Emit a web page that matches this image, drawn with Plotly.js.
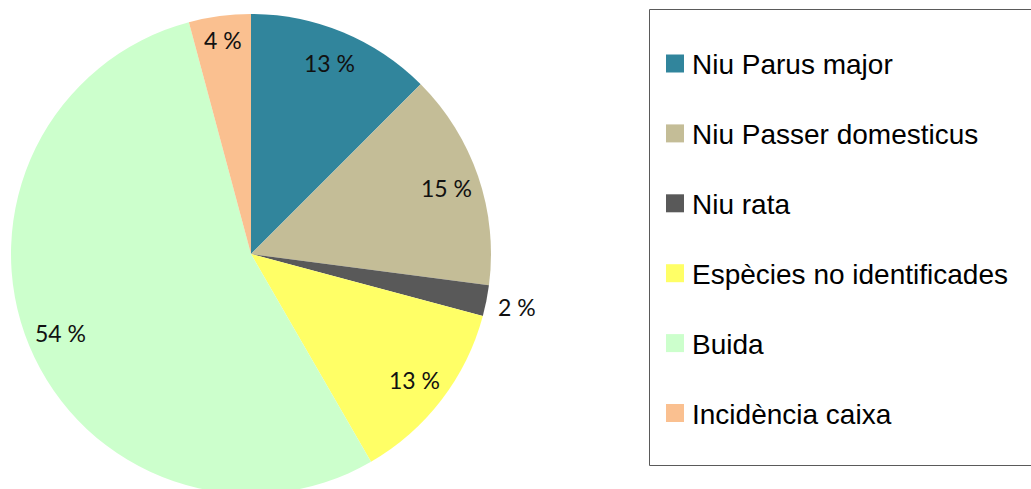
<!DOCTYPE html>
<html>
<head>
<meta charset="utf-8">
<script src="https://cdn.plot.ly/plotly-3.0.1.min.js"></script>
<style>
  html, body { margin: 0; padding: 0; overflow: hidden; background: #fff; }
  #chart { width: 1031px; height: 500px; }
</style>
</head>
<body>
<div id="chart"></div>
<script>
// Data (nest counts)
const categories = ["Niu Parus major", "Niu Passer domesticus", "Niu rata",
                    "Espècies no identificades", "Buida", "Incidència caixa"];
const counts = [12, 14, 2, 12, 52, 4];
const colors = ["#31859C", "#C4BD97", "#595959", "#FFFF66", "#CCFFCC", "#FAC090"];

// Layout constants
const W = 1031, H = 500;
const pieLeft = 11, pieTop = 14, pieSize = 480;
const R = pieSize / 2;
const cx = pieLeft + R, cy = pieTop + R;

const total = counts.reduce((a, b) => a + b, 0);

// Percentage labels placed along each slice's mid-angle
const annotations = [];
let cum = 0;
counts.forEach((v, i) => {
  const frac = v / total;
  const mid = (cum + frac / 2) * 2 * Math.PI; // clockwise from 12 o'clock
  cum += frac;
  const rf = frac < 0.03 ? 1.13 : (frac < 0.06 ? 0.9 : 0.86);
  const px = cx + rf * R * Math.sin(mid);
  const py = cy - rf * R * Math.cos(mid);
  annotations.push({
    x: px / W, y: 1 - py / H, xref: "paper", yref: "paper",
    text: Math.round(frac * 100) + " %",
    showarrow: false, xanchor: "center", yanchor: "middle",
    font: { family: "Lato, 'Open Sans', sans-serif", size: 23, color: "#111" }
  });
});

// Legend box, drawn with shapes and annotations
const legLeft = 649.5, legTop = 9.5, legBottom = 465.5;
const legFirstY = 63.5, legStep = 69.9;
const sqX0 = 666, sqSize = 18, textX = 690;
const shapes = [{
  type: "rect", xref: "paper", yref: "paper",
  x0: legLeft / W, x1: 1040 / W, y0: 1 - legBottom / H, y1: 1 - legTop / H,
  line: { color: "#5a5a5a", width: 1 }, fillcolor: "rgba(0,0,0,0)"
}];
categories.forEach((c, i) => {
  const yc = legFirstY + i * legStep;
  shapes.push({
    type: "rect", xref: "paper", yref: "paper",
    x0: sqX0 / W, x1: (sqX0 + sqSize) / W,
    y0: 1 - (yc + sqSize / 2) / H, y1: 1 - (yc - sqSize / 2) / H,
    line: { width: 0 }, fillcolor: colors[i]
  });
  annotations.push({
    x: textX / W, y: 1 - (yc + 1) / H, xref: "paper", yref: "paper",
    text: c, showarrow: false, xanchor: "left", yanchor: "middle",
    font: { family: "'Liberation Sans', Arial, sans-serif", size: 28, color: "#000" }
  });
});

const trace = {
  type: "pie",
  labels: categories,
  values: counts,
  sort: false,
  direction: "clockwise",
  rotation: 0,
  textinfo: "none",
  hoverinfo: "label+percent",
  marker: { colors: colors, line: { width: 0 } },
  domain: { x: [pieLeft / W, (pieLeft + pieSize) / W],
            y: [1 - (pieTop + pieSize) / H, 1 - pieTop / H] }
};

const layout = {
  width: W, height: H,
  margin: { l: 0, r: 0, t: 0, b: 0 },
  paper_bgcolor: "#fff",
  showlegend: false,
  annotations: annotations,
  shapes: shapes
};

Plotly.newPlot("chart", [trace], layout, { displayModeBar: false, staticPlot: true });
</script>
</body>
</html>
